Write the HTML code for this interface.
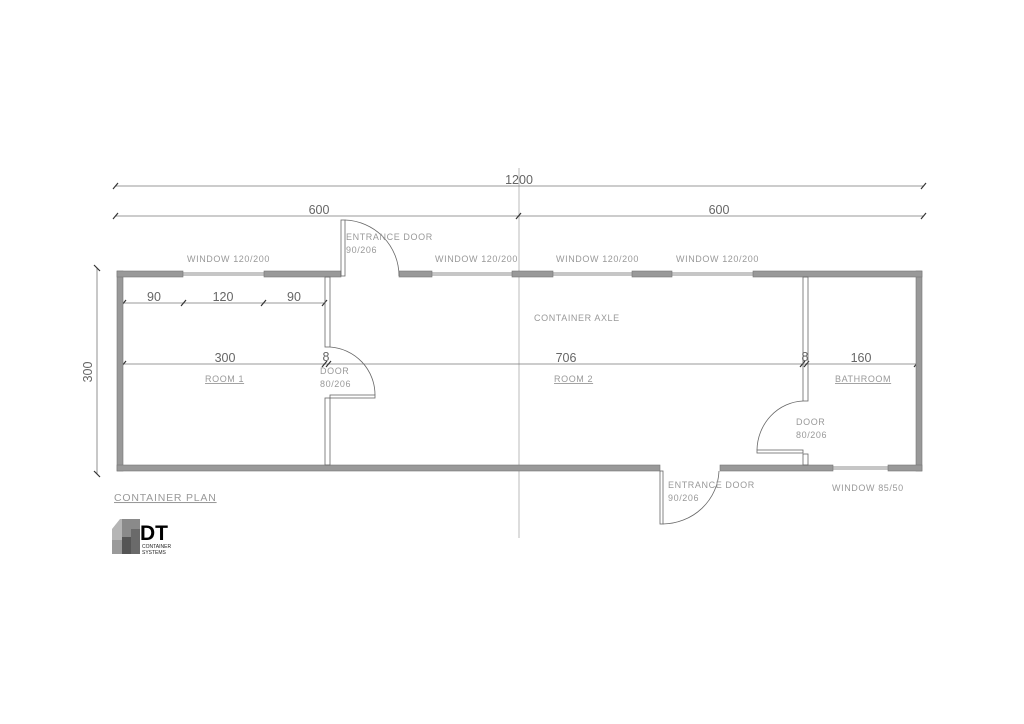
<!DOCTYPE html>
<html><head><meta charset="utf-8"><style>
html,body{margin:0;padding:0;background:#fff;}
svg{display:block}
text{font-family:"Liberation Sans",sans-serif;}
.s{font-size:9px;fill:#999;letter-spacing:0.6px}
.d{font-size:12.5px;fill:#666}
</style></head><body>
<svg width="1024" height="724" viewBox="0 0 1024 724" xmlns="http://www.w3.org/2000/svg">
<rect width="1024" height="724" fill="#fff"/>
<g stroke="#777" stroke-width="0.8" fill="none">
<!-- axis -->
<line x1="519" y1="168" x2="519" y2="538" stroke="#aaa"/>
<!-- dims -->
<line x1="115" y1="186" x2="923" y2="186"/>
<line x1="115" y1="216" x2="923" y2="216"/>
<line x1="123" y1="303" x2="325" y2="303"/>
<line x1="123" y1="364" x2="917" y2="364"/>
<line x1="97" y1="268" x2="97" y2="474"/>
</g>
<g stroke="#333" stroke-width="1.2">
<line x1="113" y1="189" x2="118" y2="183"/><line x1="921" y1="189" x2="926" y2="183"/>
<line x1="113" y1="219" x2="118" y2="213"/><line x1="516" y1="219" x2="521" y2="213"/><line x1="921" y1="219" x2="926" y2="213"/>
<line x1="121" y1="306" x2="126" y2="300"/><line x1="181" y1="306" x2="186" y2="300"/><line x1="261" y1="306" x2="266" y2="300"/><line x1="322" y1="306" x2="327" y2="300"/>
<line x1="121" y1="367" x2="126" y2="361"/><line x1="322" y1="367" x2="327" y2="361"/><line x1="326" y1="367" x2="331" y2="361"/>
<line x1="800" y1="367" x2="805" y2="361"/><line x1="804" y1="367" x2="809" y2="361"/><line x1="914" y1="367" x2="919" y2="361"/>
<line x1="94" y1="265" x2="100" y2="271"/><line x1="94" y1="471" x2="100" y2="477"/>
</g>
<!-- walls -->
<g fill="#999" stroke="#777" stroke-width="0.6">
<rect x="117" y="271" width="6" height="200"/>
<rect x="916" y="271" width="6" height="200"/>
<rect x="117" y="271" width="66" height="6"/>
<rect x="264" y="271" width="77" height="6"/>
<rect x="399" y="271" width="33" height="6"/>
<rect x="512" y="271" width="41" height="6"/>
<rect x="632" y="271" width="40" height="6"/>
<rect x="753" y="271" width="169" height="6"/>
<rect x="117" y="465" width="543" height="6"/>
<rect x="720" y="465" width="113" height="6"/>
<rect x="888" y="465" width="34" height="6"/>
</g>
<g stroke="#666" stroke-width="0.8" fill="none">
<!-- windows -->
<line x1="183" y1="273" x2="264" y2="273"/><line x1="183" y1="275" x2="264" y2="275"/>
<line x1="432" y1="273" x2="512" y2="273"/><line x1="432" y1="275" x2="512" y2="275"/>
<line x1="553" y1="273" x2="632" y2="273"/><line x1="553" y1="275" x2="632" y2="275"/>
<line x1="672" y1="273" x2="753" y2="273"/><line x1="672" y1="275" x2="753" y2="275"/>
<line x1="833" y1="467" x2="888" y2="467"/><line x1="833" y1="469" x2="888" y2="469"/>
<!-- partitions -->
<rect x="325" y="277" width="5" height="70"/>
<rect x="325" y="398" width="5" height="67"/>
<rect x="803" y="277" width="5" height="124"/>
<rect x="803" y="454" width="5" height="11"/>
<!-- doors -->
<rect x="341" y="220" width="4" height="56"/>
<path d="M345 220 A56 56 0 0 1 399 276"/>
<rect x="330" y="395" width="45" height="3"/>
<path d="M330 347 A48 48 0 0 1 375 395"/>
<rect x="757" y="450" width="46" height="3"/>
<path d="M803 401 A48 50 0 0 0 757 450"/>
<rect x="660" y="471" width="3" height="53"/>
<path d="M663 524 A57 55 0 0 0 719 471"/>
</g>
<!-- dim labels -->
<text class="d" x="519" y="184" text-anchor="middle">1200</text>
<text class="d" x="319" y="214" text-anchor="middle">600</text>
<text class="d" x="719" y="214" text-anchor="middle">600</text>
<text class="d" x="154" y="301" text-anchor="middle">90</text>
<text class="d" x="223" y="301" text-anchor="middle">120</text>
<text class="d" x="294" y="301" text-anchor="middle">90</text>
<text class="d" x="225" y="362" text-anchor="middle">300</text>
<text class="d" x="566" y="362" text-anchor="middle">706</text>
<text class="d" x="861" y="362" text-anchor="middle">160</text>
<text class="d" x="326" y="361" text-anchor="middle" font-size="10">8</text>
<text class="d" x="805" y="361" text-anchor="middle" font-size="10">8</text>
<text class="d" x="0" y="0" text-anchor="middle" fill="#999" transform="translate(92,372) rotate(-90)">300</text>
<!-- labels -->
<text class="s" x="187" y="262">WINDOW 120/200</text>
<text class="s" x="435" y="262">WINDOW 120/200</text>
<text class="s" x="556" y="262">WINDOW 120/200</text>
<text class="s" x="676" y="262">WINDOW 120/200</text>
<text class="s" x="346" y="240">ENTRANCE DOOR</text>
<text class="s" x="346" y="253">90/206</text>
<text class="s" x="320" y="374">DOOR</text>
<text class="s" x="320" y="387">80/206</text>
<text class="s" x="796" y="425">DOOR</text>
<text class="s" x="796" y="438">80/206</text>
<text class="s" x="668" y="488">ENTRANCE DOOR</text>
<text class="s" x="668" y="501">90/206</text>
<text class="s" x="832" y="491">WINDOW 85/50</text>
<text class="s" x="534" y="321">CONTAINER AXLE</text>
<text class="s" x="205" y="382" text-decoration="underline">ROOM 1</text>
<text class="s" x="554" y="382" text-decoration="underline">ROOM 2</text>
<text class="s" x="835" y="382" text-decoration="underline">BATHROOM</text>
<text x="114" y="501" font-size="10.5" fill="#999" letter-spacing="0.8" text-decoration="underline">CONTAINER PLAN</text>
<!-- logo -->
<polygon points="112,529 120,519 140,519 140,554 112,554" fill="#b5b5b5"/>
<rect x="122" y="519" width="18" height="35" fill="#8a8a8a"/>
<rect x="122" y="537" width="9" height="17" fill="#555"/>
<rect x="131" y="529" width="9" height="25" fill="#6a6a6a"/>
<rect x="112" y="540" width="10" height="14" fill="#9a9a9a"/>
<text x="140" y="540" font-size="21" font-weight="bold" fill="#000">DT</text>
<text x="142" y="548" font-size="5" fill="#222">CONTAINER</text>
<text x="142" y="554" font-size="5" fill="#222">SYSTEMS</text>
</svg>
</body></html>
